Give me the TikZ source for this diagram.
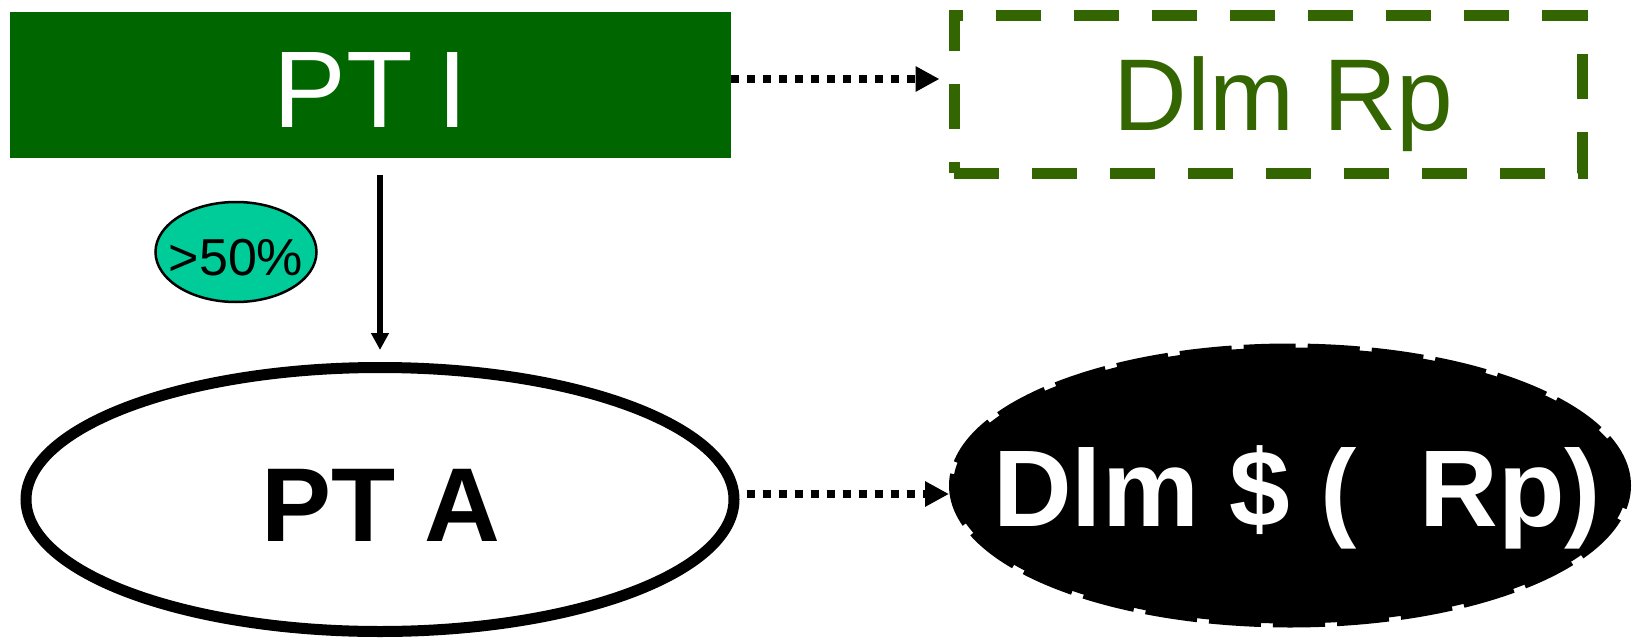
\documentclass[tikz,border=0pt]{standalone}
\usepackage{fontspec}
\setmainfont{Liberation Sans}
\usetikzlibrary{shapes.geometric,arrows.meta}
\definecolor{darkgreen}{HTML}{006600}
\definecolor{olivegreen}{HTML}{336600}
\definecolor{tealfill}{HTML}{00CC99}
\newcommand{\placetext}[3]{\makebox[0pt]{\hspace{#1}\raisebox{-#2}[0pt][0pt]{#3}}}
\tikzset{
  box/.style={rectangle,inner sep=0pt,fill=darkgreen,text=white,minimum width=720.6pt,minimum height=145.8pt,font=\fontsize{109}{120}\selectfont},
  dashbox/.style={rectangle,inner sep=0pt,draw=olivegreen,line width=11pt,dash pattern=on 45pt off 33pt,text=olivegreen,minimum width=628pt,minimum height=157.4pt,font=\fontsize{102}{112}\selectfont},
  pctell/.style={ellipse,inner sep=0pt,draw=black,line width=2.5pt,fill=tealfill,minimum width=161pt,minimum height=100pt,font=\fontsize{52}{60}\selectfont},
  whiteell/.style={ellipse,inner sep=0pt,draw=black,line width=11pt,fill=white,minimum width=708pt,minimum height=264pt,font=\bfseries\fontsize{105}{115}\selectfont},
  blackell/.style={ellipse,inner sep=0pt,draw=black,fill=black,line width=8pt,dash pattern=on 52pt off 12pt,text=white,minimum width=674pt,minimum height=276pt,font=\bfseries\fontsize{109}{120}\selectfont},
  dotarrow/.style={line width=8pt,dash pattern=on 8pt off 8pt,-{Triangle[length=24pt,width=24pt]}},
  solidarrow/.style={line width=6.5pt,-{Triangle[length=17pt,width=17pt]}}
}
\begin{document}
\begin{tikzpicture}[x=1pt,y=-1pt]
\useasboundingbox (0,0) rectangle (1633,642);
\node[box] (ptI) at (370.7,85.4) {\placetext{0pt}{41.6pt}{PT\hspace{24pt}I}};
\node[dashbox] (dlmRp) at (1268,94.3) {\placetext{31pt}{35.9pt}{Dlm Rp}};
\node[pctell] (pct) at (236,252) {\placetext{0pt}{23pt}{>50\%}};
\node[whiteell] (ptA) at (380,499.5) {\placetext{2pt}{42pt}{PT A}};
\node[blackell] (dlmA) at (1290,485.5) {\placetext{14pt}{40.5pt}{Dlm \$ (\hspace{0.3em} Rp)}};
\draw[dotarrow,shorten >=9pt] ([yshift=6.4pt]ptI.east) -- ([yshift=15.3pt]dlmRp.west);
\draw[solidarrow,shorten <=16pt,shorten >=12pt] (ptA.north |- ptI.south) -- (ptA.north);
\draw[dotarrow,shorten <=7pt] ([yshift=5.5pt]ptA.east) -- ([yshift=-8.5pt]dlmA.west);
\end{tikzpicture}
\end{document}
